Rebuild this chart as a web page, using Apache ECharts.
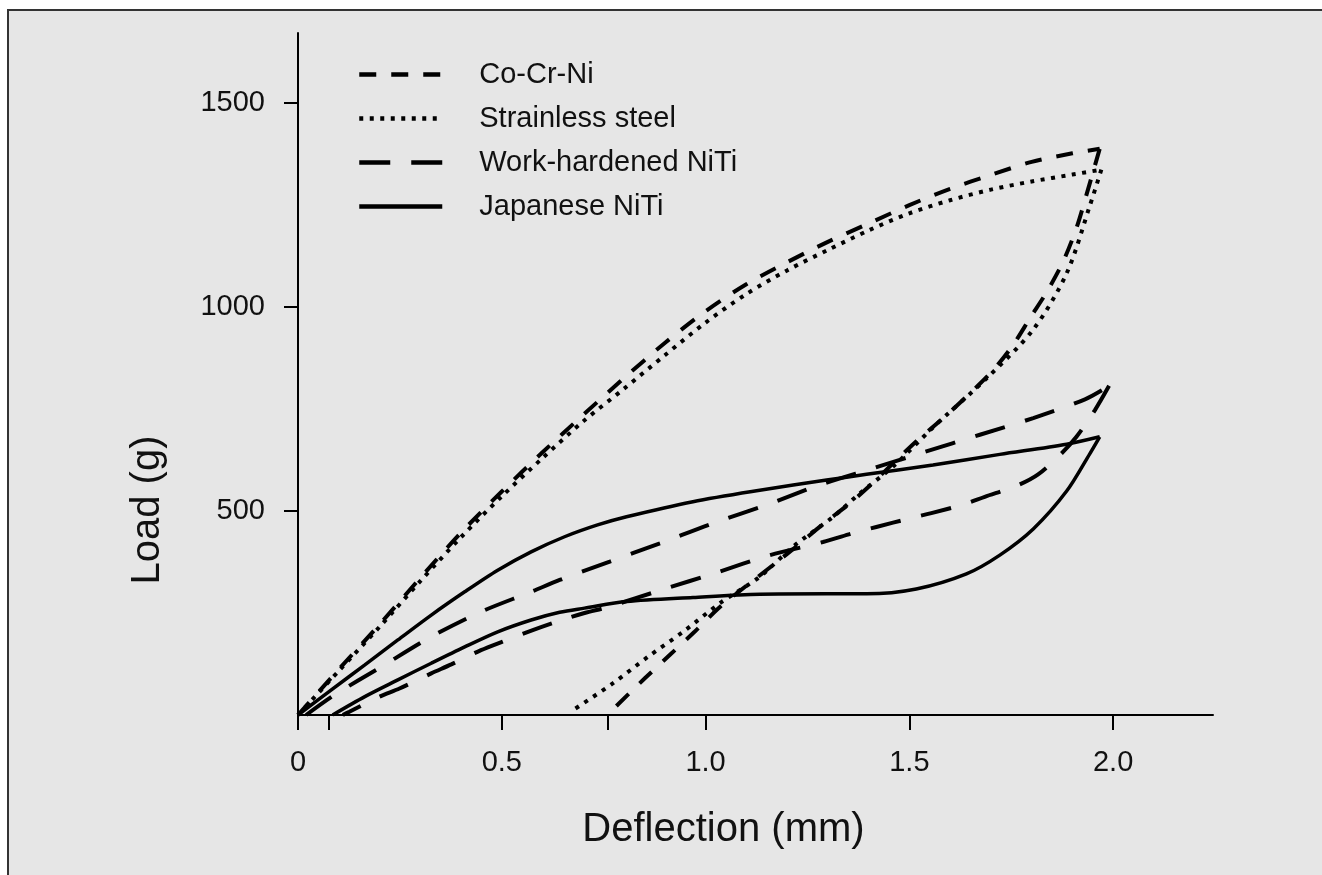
<!DOCTYPE html>
<html>
<head>
<meta charset="utf-8">
<title>Load-deflection</title>
<script src="https://cdn.jsdelivr.net/npm/echarts@6/dist/echarts.min.js"></script>
<style>
  html, body { margin: 0; padding: 0; background: #fff; }
  #frame {
    position: absolute; left: 7px; top: 9px; width: 1340px; height: 890px;
    background: #e6e6e6; border-top: 2px solid #333; border-left: 2px solid #333;
  }
  #chart { position: absolute; left: 0; top: 0; width: 1322px; height: 875px; }
</style>
</head>
<body>
<div id="frame"></div>
<div id="chart"></div>
<script>
// deflection (mm), load (g)
const cocrniLoad = [[0, 0], [0.1, 112], [0.2, 222], [0.3, 336], [0.4, 447], [0.5, 548], [0.6, 644], [0.7, 736], [0.8, 826], [0.9, 912], [1.0, 990], [1.1, 1056], [1.2, 1110], [1.3, 1160], [1.4, 1205], [1.5, 1250], [1.6, 1290], [1.7, 1324], [1.8, 1356], [1.9, 1377], [1.967, 1388]]
const cocrniUnload = [[1.967, 1388], [1.935, 1277], [1.91, 1194], [1.877, 1111], [1.837, 1037], [1.796, 973], [1.755, 908], [1.706, 846], [1.648, 788], [1.583, 728], [1.518, 672], [1.468, 625], [1.411, 570], [1.354, 519], [1.288, 468], [1.231, 420], [1.166, 368], [1.076, 298], [1.031, 261], [0.973, 204], [0.912, 147], [0.851, 90], [0.781, 22]]
const steelLoad = [[0, 0], [0.1, 108], [0.2, 216], [0.3, 328], [0.4, 436], [0.5, 536], [0.6, 630], [0.7, 720], [0.8, 800], [0.9, 882], [1.0, 962], [1.1, 1032], [1.2, 1090], [1.3, 1140], [1.4, 1188], [1.5, 1230], [1.6, 1262], [1.7, 1288], [1.8, 1308], [1.9, 1325], [1.971, 1337]]
const steelUnload = [[1.971, 1337], [1.943, 1249], [1.886, 1083], [1.804, 945], [1.689, 825], [1.558, 705], [1.46, 609], [1.378, 543], [1.313, 486], [1.215, 413], [1.133, 339], [1.035, 274], [0.945, 204], [0.859, 143], [0.773, 78], [0.675, 12]]
const whLoad = [[0.02, 0], [0.089, 49], [0.204, 118], [0.327, 192], [0.449, 253], [0.572, 302], [0.642, 331], [0.765, 376], [0.888, 421], [1.018, 470], [1.149, 515], [1.28, 564], [1.411, 605], [1.538, 645], [1.673, 687], [1.804, 728], [1.931, 774], [1.99, 807]]
const whUnload = [[1.99, 807], [1.955, 747], [1.91, 682], [1.873, 641], [1.816, 590], [1.763, 562], [1.685, 535], [1.632, 516], [1.554, 495], [1.501, 482], [1.419, 461], [1.366, 447], [1.288, 424], [1.158, 392], [1.027, 349], [0.896, 308], [0.761, 265], [0.703, 250], [0.642, 231], [0.576, 208], [0.502, 180], [0.449, 159], [0.376, 124], [0.327, 102], [0.249, 65], [0.2, 45], [0.126, 8], [0.11, 0]]
const japanLoad = [[0, 0], [0.081, 61], [0.164, 123], [0.245, 184], [0.327, 245], [0.409, 302], [0.49, 355], [0.572, 400], [0.654, 437], [0.735, 466], [0.806, 486], [0.969, 523], [1.133, 551], [1.297, 576], [1.395, 590], [1.558, 613], [1.722, 639], [1.886, 664], [1.967, 682]]
const japanUnload = [[1.967, 682], [1.943, 641], [1.886, 549], [1.804, 456], [1.722, 392], [1.64, 346], [1.517, 309], [1.395, 297], [1.297, 297], [1.133, 296], [0.969, 288], [0.806, 278], [0.703, 262], [0.642, 252], [0.572, 233], [0.49, 204], [0.409, 167], [0.327, 127], [0.245, 86], [0.164, 45], [0.085, 0]]

const names = ['Co-Cr-Ni', 'Strainless steel', 'Work-hardened NiTi', 'Japanese NiTi']
const xTicks = [0, 0.076, 0.5, 0.76, 1.0, 1.5, 2.0]
const xLabels = [0, 0.5, 1.0, 1.5, 2.0]
const yTicks = [500, 1000, 1500]

const font = "'Liberation Sans', Arial, Helvetica, sans-serif"
const dashes = {
  'Co-Cr-Ni': [17, 15],
  'Strainless steel': [4, 6.5],
  'Work-hardened NiTi': [31, 21],
  'Japanese NiTi': 'solid'
}

function curve(name, data) {
  return {
    name: name,
    type: 'line',
    data: data,
    smooth: 0.3,
    symbol: 'none',
    showSymbol: false,
    lineStyle: {
      color: '#000',
      width: name === 'Japanese NiTi' ? 3.5 : 4,
      type: dashes[name],
      cap: 'butt'
    }
  }
}

const chart = echarts.init(document.getElementById('chart'))
chart.setOption({
  animation: false,
  backgroundColor: 'transparent',
  grid: { left: 298, right: 109, top: 33, bottom: 160 },
  legend: {
    data: names,
    orient: 'vertical',
    left: 352,
    top: 55,
    itemWidth: 83,
    itemHeight: 14,
    itemGap: 15,
    itemStyle: { color: 'rgba(0,0,0,0)', borderColor: 'rgba(0,0,0,0)', borderWidth: 0 },
    lineStyle: { width: 4.5 },
    textStyle: { fontSize: 29, color: '#111', fontFamily: font, padding: [0, 0, 0, 32] }
  },
  xAxis: {
    type: 'value',
    min: 0,
    max: 2.245,
    name: 'Deflection (mm)',
    nameLocation: 'middle',
    nameGap: 95,
    nameMoveOverlap: false,
    nameTextStyle: { fontSize: 40, color: '#111', fontFamily: font, padding: [0, 64, 0, 0] },
    axisLine: { show: true, lineStyle: { color: '#000', width: 2 } },
    axisTick: { show: true, length: 15, customValues: xTicks, lineStyle: { color: '#000', width: 2 } },
    axisLabel: {
      customValues: xLabels,
      margin: 33,
      fontSize: 29,
      color: '#111',
      fontFamily: font,
      formatter: function(v) {
        return v === 0 ? '0' : v.toFixed(1)
      }
    },
    splitLine: { show: false }
  },
  yAxis: {
    type: 'value',
    min: 0,
    max: 1672,
    name: 'Load (g)',
    nameLocation: 'middle',
    nameRotate: 90,
    nameGap: 130,
    nameMoveOverlap: false,
    nameTextStyle: { fontSize: 40, color: '#111', fontFamily: font, padding: [0, 272, 0, 0] },
    axisLine: { show: true, lineStyle: { color: '#000', width: 2 } },
    axisTick: { show: true, length: 14, customValues: yTicks, lineStyle: { color: '#000', width: 2 } },
    axisLabel: {
      customValues: yTicks,
      margin: 33,
      fontSize: 29,
      color: '#111',
      fontFamily: font,
      formatter: function(v) {
        return String(v)
      }
    },
    splitLine: { show: false }
  },
  series: [
    curve(names[0], cocrniLoad),
    curve(names[0], cocrniUnload),
    curve(names[1], steelLoad),
    curve(names[1], steelUnload),
    curve(names[2], whLoad),
    curve(names[2], whUnload),
    curve(names[3], japanLoad),
    curve(names[3], japanUnload)
  ]
})
</script>
</body>
</html>
